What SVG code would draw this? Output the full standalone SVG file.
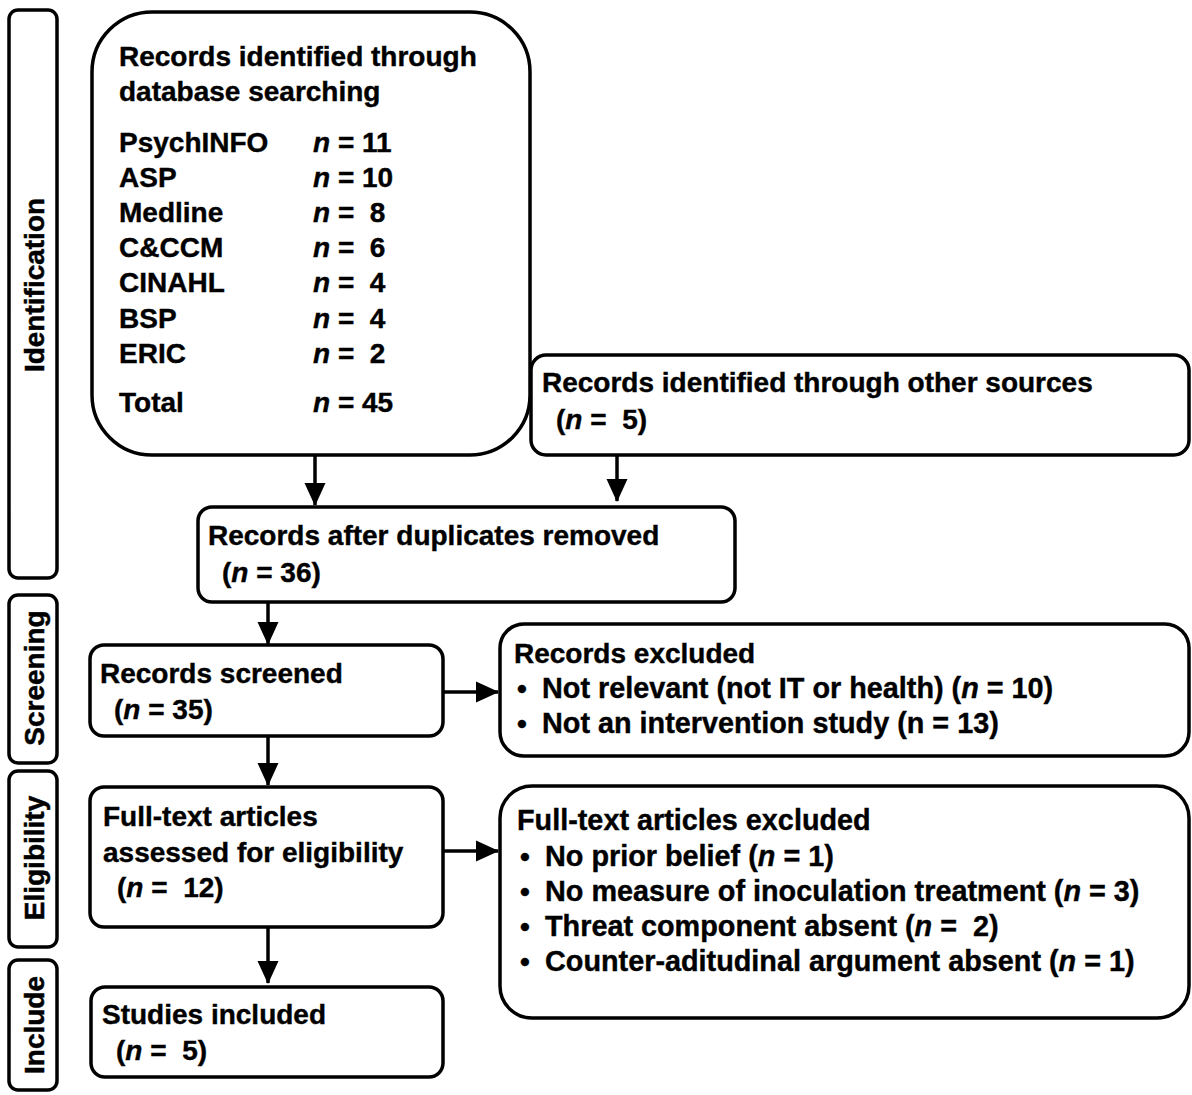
<svg xmlns="http://www.w3.org/2000/svg" width="1192" height="1095" viewBox="0 0 1192 1095">
<style>
.box{fill:#fff;stroke:#000;stroke-width:3.5}
.t{font-family:"Liberation Sans",Arial,sans-serif;font-weight:bold;font-size:28px;fill:#000;stroke:#000;stroke-width:0.4;white-space:pre}
.b{font-size:28.8px}
.i{font-style:italic}
.side{font-family:"Liberation Sans",Arial,sans-serif;font-weight:bold;font-size:28px;fill:#000;stroke:#000;stroke-width:0.5;text-anchor:middle}
.c{stroke:#000;stroke-width:3.5;fill:none}
</style>
<defs>
<marker id="ah" markerUnits="userSpaceOnUse" markerWidth="24" markerHeight="24" viewBox="0 0 24 24" refX="22" refY="12" orient="auto">
<path d="M0,1.5 L23,12 L0,22.5 Z" fill="#000"/>
</marker>
</defs>
<rect width="1192" height="1095" fill="#fff"/>

<g id="lbl-identification">
<rect class="box" x="9" y="10" width="48" height="568" rx="9"/>
<text class="side" transform="translate(44,285) rotate(-90)">Identification</text>
</g>
<g id="lbl-screening">
<rect class="box" x="9" y="595" width="48" height="168" rx="9"/>
<text class="side" transform="translate(44,678) rotate(-90)">Screening</text>
</g>
<g id="lbl-eligibility">
<rect class="box" x="9" y="771" width="48" height="176" rx="9"/>
<text class="side" transform="translate(44,858) rotate(-90)">Eligibility</text>
</g>
<g id="lbl-include">
<rect class="box" x="9" y="960" width="48" height="130" rx="9"/>
<text class="side" transform="translate(44,1025) rotate(-90)">Include</text>
</g>

<g id="db">
<rect class="box" x="92" y="12" width="438" height="443" rx="60"/>
<text class="t" x="119" y="66">Records identified through</text>
<text class="t" x="119" y="101">database searching</text>
<text class="t" x="119" y="152">PsychINFO</text>
<text class="t" x="119" y="187">ASP</text>
<text class="t" x="119" y="222">Medline</text>
<text class="t" x="119" y="257">C&amp;CCM</text>
<text class="t" x="119" y="292">CINAHL</text>
<text class="t" x="119" y="328">BSP</text>
<text class="t" x="119" y="363">ERIC</text>
<text class="t" x="119" y="412">Total</text>
<text class="t" x="313" y="152"><tspan class="i">n</tspan> = 11</text>
<text class="t" x="313" y="187"><tspan class="i">n</tspan> = 10</text>
<text class="t" x="313" y="222"><tspan class="i">n</tspan> =  8</text>
<text class="t" x="313" y="257"><tspan class="i">n</tspan> =  6</text>
<text class="t" x="313" y="292"><tspan class="i">n</tspan> =  4</text>
<text class="t" x="313" y="328"><tspan class="i">n</tspan> =  4</text>
<text class="t" x="313" y="363"><tspan class="i">n</tspan> =  2</text>
<text class="t" x="313" y="412"><tspan class="i">n</tspan> = 45</text>
</g>

<g id="other">
<rect class="box" x="531" y="355" width="658" height="100" rx="15"/>
<text class="t" x="542" y="392">Records identified through other sources</text>
<text class="t" x="556" y="429">(<tspan class="i">n</tspan> =  5)</text>
</g>

<g id="dedup">
<rect class="box" x="198" y="507" width="537" height="95" rx="14"/>
<text class="t" x="208" y="545">Records after duplicates removed</text>
<text class="t" x="222" y="582">(<tspan class="i">n</tspan> = 36)</text>
</g>

<g id="screened">
<rect class="box" x="90" y="645" width="353" height="91" rx="14"/>
<text class="t" x="100" y="683">Records screened</text>
<text class="t" x="114" y="719">(<tspan class="i">n</tspan> = 35)</text>
</g>

<g id="excluded">
<rect class="box" x="500" y="624" width="689" height="132" rx="24"/>
<text class="t" x="514" y="663">Records excluded</text>
<text class="t" x="517" y="698">•</text>
<text class="t b" x="542" y="698">Not relevant (not IT or health) (<tspan class="i">n</tspan> = 10)</text>
<text class="t" x="517" y="733">•</text>
<text class="t b" x="542" y="733">Not an intervention study (n = 13)</text>
</g>

<g id="fulltext">
<rect class="box" x="90" y="787" width="353" height="140" rx="14"/>
<text class="t" x="103" y="826">Full-text articles</text>
<text class="t" x="103" y="862">assessed for eligibility</text>
<text class="t" x="117" y="897">(<tspan class="i">n</tspan> =  12)</text>
</g>

<g id="ft-excluded">
<rect class="box" x="500" y="786" width="689" height="232" rx="32"/>
<text class="t b" x="517" y="830">Full-text articles excluded</text>
<text class="t" x="520" y="866">•</text>
<text class="t b" x="545" y="866">No prior belief (<tspan class="i">n</tspan> = 1)</text>
<text class="t" x="520" y="901">•</text>
<text class="t b" x="545" y="901">No measure of inoculation treatment (<tspan class="i">n</tspan> = 3)</text>
<text class="t" x="520" y="936">•</text>
<text class="t b" x="545" y="936">Threat component absent (<tspan class="i">n</tspan> =  2)</text>
<text class="t" x="520" y="971">•</text>
<text class="t b" x="545" y="971">Counter-aditudinal argument absent (<tspan class="i">n</tspan> = 1)</text>
</g>

<g id="included">
<rect class="box" x="91" y="987" width="352" height="90" rx="14"/>
<text class="t" x="102" y="1024">Studies included</text>
<text class="t" x="116" y="1060">(<tspan class="i">n</tspan> =  5)</text>
</g>

<g id="connectors">
<line class="c" x1="315" y1="456" x2="315" y2="505" marker-end="url(#ah)"/>
<line class="c" x1="617" y1="456" x2="617" y2="501" marker-end="url(#ah)"/>
<line class="c" x1="268" y1="603" x2="268" y2="644" marker-end="url(#ah)"/>
<line class="c" x1="444" y1="692" x2="498" y2="692" marker-end="url(#ah)"/>
<line class="c" x1="268" y1="737" x2="268" y2="785" marker-end="url(#ah)"/>
<line class="c" x1="444" y1="851" x2="498" y2="851" marker-end="url(#ah)"/>
<line class="c" x1="268" y1="928" x2="268" y2="983" marker-end="url(#ah)"/>
</g>
</svg>
